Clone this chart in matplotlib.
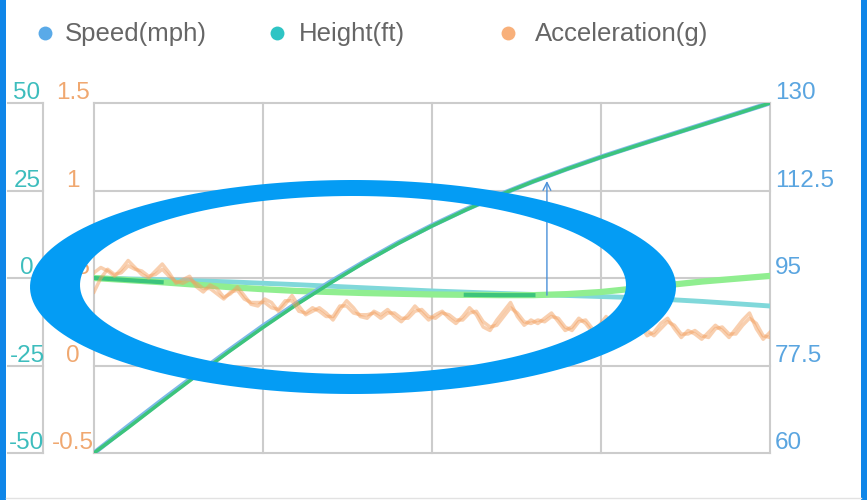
import numpy as np
import matplotlib.pyplot as plt
import matplotlib.transforms as mtransforms
from matplotlib.path import Path
from matplotlib.patches import PathPatch, Rectangle

plt.rcParams['font.family'] = ['Liberation Sans', 'DejaVu Sans']

W, H = 867, 500

# --- data -----------------------------------------------------------------
x_grid = [0, 25, 50, 75, 100]

height_ticks = [-50, -25, 0, 25, 50]
height_labels = ['-50', '-25', '0', '25', '50']
acc_ticks = [-0.5, 0, 0.5, 1, 1.5]
acc_labels = ['-0.5', '0', '0.5', '1', '1.5']
speed_ticks = [60, 77.5, 95, 112.5, 130]
speed_labels = ['60', '77.5', '95', '112.5', '130']

x_speed = np.arange(0, 101, 5)
speed = [60.0, 65.3, 70.5, 75.6, 80.55, 85.4, 89.95, 94.25, 98.25, 102.05, 105.5,
         108.7, 111.65, 114.35, 116.85, 119.2, 121.4, 123.55, 125.7, 127.85, 130.0]
speed_fit = [60.0, 65.0, 70.2, 75.3, 80.3, 85.1, 89.7, 94.0, 98.1, 101.9, 105.4,
             108.6, 111.6, 114.3, 116.8, 119.15, 121.35, 123.5, 125.65, 127.8, 130.0]

x_height = np.arange(0, 101, 10)
height = [0.0, -0.5, -1.1, -1.9, -2.8, -3.7, -4.4, -5.0, -5.6, -6.7, -8.0]

x_hfit = np.arange(0, 101, 5)
height_fit = [0.0, -0.6, -1.2, -1.9, -2.6, -3.2, -3.7, -4.0, -4.3, -4.5, -4.7,
              -4.8, -4.9, -4.9, -4.6, -4.0, -3.0, -2.0, -1.0, -0.2, 0.6]

acc_a = [0.53, 0.56, 0.54, 0.51, 0.55, 0.60, 0.56, 0.52, 0.50, 0.54,
         0.58, 0.53, 0.47, 0.49, 0.51, 0.45, 0.42, 0.46, 0.44, 0.39,
         0.41, 0.45, 0.40, 0.35, 0.34, 0.38, 0.36, 0.31, 0.35, 0.40,
         0.34, 0.29, 0.31, 0.33, 0.30, 0.26, 0.32, 0.37, 0.33, 0.28,
         0.27, 0.31, 0.29, 0.32, 0.28, 0.25, 0.29, 0.34, 0.30, 0.26,
         0.29, 0.31, 0.27, 0.24, 0.28, 0.33, 0.29, 0.22, 0.20, 0.26,
         0.31, 0.36, 0.28, 0.23, 0.26, 0.24, 0.27, 0.30, 0.25, 0.20,
         0.22, 0.27, 0.24, 0.19, 0.23, 0.28, 0.22, 0.18, 0.21, 0.26,
         0.23, 0.17, 0.19, 0.24, 0.27, 0.21, 0.16, 0.20, 0.18, 0.15,
         0.19, 0.23, 0.20, 0.16, 0.21, 0.26, 0.30, 0.21, 0.15, 0.19]
acc_b = [0.42, 0.50, 0.55, 0.52, 0.53, 0.57, 0.55, 0.54, 0.51, 0.52,
         0.55, 0.51, 0.48, 0.47, 0.49, 0.47, 0.44, 0.44, 0.41, 0.38,
         0.42, 0.43, 0.38, 0.36, 0.36, 0.36, 0.33, 0.32, 0.37, 0.37,
         0.31, 0.30, 0.33, 0.31, 0.28, 0.28, 0.34, 0.34, 0.30, 0.29,
         0.29, 0.30, 0.27, 0.30, 0.30, 0.27, 0.27, 0.31, 0.32, 0.28,
         0.27, 0.30, 0.29, 0.26, 0.26, 0.30, 0.31, 0.25, 0.22, 0.23,
         0.28, 0.33, 0.30, 0.25, 0.24, 0.26, 0.25, 0.28, 0.27, 0.22,
         0.20, 0.25, 0.26, 0.21, 0.21, 0.25, 0.24, 0.20, 0.19, 0.23,
         0.25, 0.20, 0.17, 0.21, 0.25, 0.23, 0.18, 0.18, 0.20, 0.17,
         0.16, 0.21, 0.22, 0.18, 0.18, 0.23, 0.27, 0.24, 0.17, 0.16]
x_acc = np.linspace(0, 100, len(acc_a))

ARROW_X = 67
ARROW_FROM = -4.9     # height axis
ARROW_TO = 114.4      # speed axis

# --- colours --------------------------------------------------------------
C_SPEED = '#5aaae8'
C_HEIGHT = '#2ec4c4'
C_ACC = '#f8b07a'
C_GRID = '#cccccc'

fig = plt.figure(figsize=(W / 100, H / 100), dpi=100)
ax = fig.add_axes([94 / W, 1 - 453 / H, 676 / W, 350 / H])
ax_spd = ax.twinx()
ax_acc = ax.twinx()

ax.set_xlim(0, 100)
ax.set_ylim(-50, 50)
ax_spd.set_ylim(60, 130)
ax_acc.set_ylim(-0.5, 1.5)

ax.set_xticks(x_grid)
ax.set_yticks(height_ticks)
ax.grid(True, color=C_GRID, lw=1.5)
ax.tick_params(length=0, labelleft=False, labelbottom=False)
for line in ax.get_xgridlines() + ax.get_ygridlines():
    line.set_clip_on(False)
for a in (ax, ax_spd, ax_acc):
    for s in a.spines.values():
        s.set_visible(False)
ax_spd.set_yticks([])
ax_acc.set_yticks([])

# height + fit
ax.plot(x_height, height, color='#80d8da', lw=3.5, solid_capstyle='round')
ax.plot(x_hfit, height_fit, color='#90ee90', lw=4.5, solid_capstyle='round')
xh = np.array(x_hfit)
hf = np.array(height_fit)
m1 = xh <= 10
m2 = (xh >= 55) & (xh <= 65)
ax.plot(xh[m1], hf[m1], color='#3cc47c', lw=3)
ax.plot(xh[m2], hf[m2], color='#3cc47c', lw=3)

# speed + fit
ax_spd.plot(x_speed, speed, color='#7cb9e8', lw=3.5, solid_capstyle='round')
ax_spd.plot(x_speed, speed_fit, color='#3cc47c', lw=2.5, solid_capstyle='round')

# acceleration
ax_acc.plot(x_acc, acc_a, color='#f3a060', lw=2.5, alpha=0.5)
ax_acc.plot(x_acc, acc_b, color='#f3a060', lw=2.5, alpha=0.5)

# arrow between fit curves
ax_spd.annotate('', xy=(ARROW_X, ARROW_TO), xycoords=ax_spd.transData,
                xytext=(ARROW_X, ARROW_FROM), textcoords=ax.transData,
                arrowprops=dict(arrowstyle='->', color='#4a90d9', lw=1,
                                mutation_scale=14, shrinkA=0, shrinkB=0))

# axis labels
def label_trans(data_ax, dy=4):
    t = mtransforms.blended_transform_factory(fig.transFigure, data_ax.transData)
    return mtransforms.offset_copy(t, fig=fig, y=dy, units='dots'), t

t_h, t_h0 = label_trans(ax)
for v, s in zip(height_ticks, height_labels):
    ax.text(27 / W, v, s, transform=t_h, ha='center', va='baseline',
            color='#3dbdbd', fontsize=17.5, clip_on=False)
    ax.plot([8 / W, 43 / W], [v, v], transform=t_h0, color=C_GRID, lw=1.5,
            clip_on=False)
ax.plot([43 / W, 43 / W], [-50, 50], transform=t_h0, color=C_GRID, lw=1.5,
        clip_on=False)

t_a, _ = label_trans(ax_acc)
for v, s in zip(acc_ticks, acc_labels):
    ax_acc.text(73 / W, v, s, transform=t_a, ha='center', va='baseline',
                color='#f0a870', fontsize=17.5, clip_on=False)

t_s, _ = label_trans(ax_spd)
for v, s in zip(speed_ticks, speed_labels):
    ax_spd.text(775 / W, v, s, transform=t_s, ha='left', va='baseline',
                color='#5aa5e0', fontsize=17.5, clip_on=False)

# overlay: legend, frame strips, ellipse
ov = fig.add_axes([0, 0, 1, 1])
ov.set_xlim(0, W)
ov.set_ylim(H, 0)
ov.axis('off')
ov.set_zorder(10)
ov.patch.set_visible(False)

for xc, xt, name, c in [(45, 65, 'Speed(mph)', C_SPEED),
                        (277, 299, 'Height(ft)', C_HEIGHT),
                        (508, 535, 'Acceleration(g)', C_ACC)]:
    ov.plot([xc], [33], 'o', ms=10, color=c, mec='none')
    ov.text(xt, 34, name, va='center', ha='left', fontsize=18.5, color='#666666')

ov.add_patch(Rectangle((0, 0), 6, H, color='#0f86e8', lw=0))
ov.add_patch(Rectangle((861, 0), 6, H, color='#0f86e8', lw=0))
ov.plot([6, 861], [498, 498], color='#e2e2e2', lw=1)

th = np.linspace(0, 2 * np.pi, 200)
outer = np.column_stack([353 + 323 * np.cos(th), 287 + 107 * np.sin(th)])
inner = np.column_stack([353 + 273 * np.cos(th), 285 + 89 * np.sin(th)])[::-1]
verts = np.vstack([outer, inner])
codes = ([Path.MOVETO] + [Path.LINETO] * (len(outer) - 2) + [Path.CLOSEPOLY]) * 2
ov.add_patch(PathPatch(Path(verts, codes), facecolor='#049cf4', edgecolor='none'))

fig.savefig('out.png', dpi=100)
